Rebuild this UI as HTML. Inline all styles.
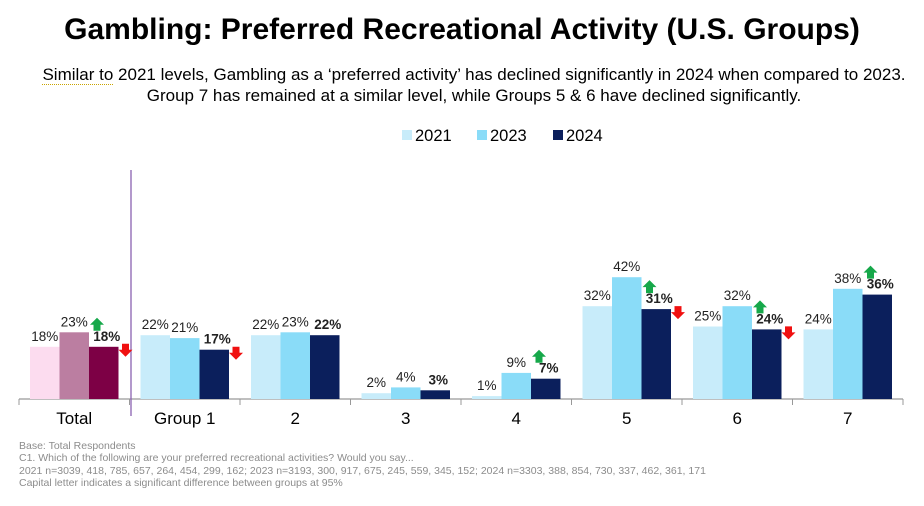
<!DOCTYPE html>
<html><head><meta charset="utf-8"><style>
body{margin:0;background:#fff;font-family:"Liberation Sans",Arial,sans-serif;}
#wrap{position:relative;width:924px;height:506px;overflow:hidden;}
.t{position:absolute;left:0;width:924px;text-align:center;}
</style></head><body>
<div id="wrap">
<div class="t" style="top:13px;font-size:30px;font-weight:bold;color:#000;">Gambling: Preferred Recreational Activity (U.S. Groups)</div>
<div class="t" style="top:64px;left:12px;font-size:17px;line-height:21px;color:#000;"><span style="border-bottom:1px dotted #c9a400">Similar to</span> 2021 levels, Gambling as a ‘preferred activity’ has declined significantly in 2024 when compared to 2023.<br>Group 7 has remained at a similar level, while Groups 5 &amp; 6 have declined significantly.</div>
<svg id="chart" width="924" height="506" style="position:absolute;left:0;top:0"></svg>
<div style="position:absolute;left:19px;top:440px;font-size:10.5px;line-height:12.3px;color:#8c8c8c;">Base: Total Respondents<br>C1. Which of the following are your preferred recreational activities? Would you say...<br>2021 n=3039, 418, 785, 657, 264, 454, 299, 162; 2023 n=3193, 300, 917, 675, 245, 559, 345, 152; 2024 n=3303, 388, 854, 730, 337, 462, 361, 171<br>Capital letter indicates a significant difference between groups at 95%</div>
</div>
<script>
const categories=["Total","Group 1","2","3","4","5","6","7"];
const s2021=[18,22,22,2,1,32,25,24];
const s2023=[23,21,23,4,9,42,32,38];
const s2024=[18,17,22,3,7,31,24,36];
const upFlags=[1,0,0,0,1,1,1,1];
const downFlags=[1,1,0,0,0,1,1,0];
const NS="http://www.w3.org/2000/svg";
const svg=document.getElementById('chart');
const x0=19,catW=110.5,base=399,pxPer=2.9,barW=29.5,off=11;
function y(v){return base-v*pxPer;}
function cx(i){return x0+i*catW;}
function mk(tag,attrs,parent){const e=document.createElementNS(NS,tag);for(const k in attrs)e.setAttribute(k,attrs[k]);(parent||svg).appendChild(e);return e;}
const colsBlue=["#c8ecfa","#8adcf8","#0b1f5c"];
const colsTotal=["#fcdcef","#bb7ea1","#7d0045"];
const series=[s2021,s2023,s2024];
const ax=mk('line',{x1:x0,y1:base,x2:x0+8*catW,y2:base,stroke:'#999','stroke-width':1.2});


for(let i=0;i<=8;i++){const t=mk('line',{x1:cx(i),y1:base,x2:cx(i),y2:base+6,stroke:'#999'});

}
const sep=mk('line',{x1:131,y1:170,x2:131,y2:416,stroke:'#8a62b0','stroke-width':1.3});


function up(xc,yc){const p=mk('polygon',{points:`${xc},${yc-7} ${xc+7},${yc} ${xc+3.5},${yc} ${xc+3.5},${yc+6} ${xc-3.5},${yc+6} ${xc-3.5},${yc} ${xc-7},${yc}`,fill:'#16a84a'});

}
function down(xc,yc){const p=mk('polygon',{points:`${xc},${yc+7} ${xc+7},${yc} ${xc+3.5},${yc} ${xc+3.5},${yc-6} ${xc-3.5},${yc-6} ${xc-3.5},${yc} ${xc-7},${yc}`,fill:'#f01010'});

}
categories.forEach((c,i)=>{
  series.forEach((s,j)=>{
    const bx=cx(i)+off+j*barW;
    const r=mk('rect',{x:bx,y:y(s[i]),width:barW,height:s[i]*pxPer,fill:(i==0?colsTotal:colsBlue)[j]});
    
    
    const tx=mk('text',{x:bx+barW/2+(j==2?3:0),y:y(s[i])-6,'text-anchor':'middle','font-size':13.5,fill:'#222','font-weight':j==2?'bold':'normal'});
    tx.textContent=s[i]+'%';
    
    
  });
  const lb=mk('text',{x:cx(i)+catW/2,y:424,'text-anchor':'middle','font-size':17,fill:'#000'});
  lb.textContent=c;
  
  
  const right3=cx(i)+off+3*barW;
  if(upFlags[i])up(cx(i)+off+2*barW+8,y(s2024[i])-22);
  if(downFlags[i])down(right3+7,y(s2024[i])+3);
});
const leg=[["2021",colsBlue[0],402],["2023",colsBlue[1],477],["2024",colsBlue[2],553]];
leg.forEach(l=>{
  const g=mk('g',{});
  
  
  mk('rect',{x:l[2],y:130,width:10,height:10,fill:l[1]},g);
  const t=mk('text',{x:l[2]+13,y:141,'font-size':16.5,fill:'#000'},g);t.textContent=l[0];
});
</script>
</body></html>
